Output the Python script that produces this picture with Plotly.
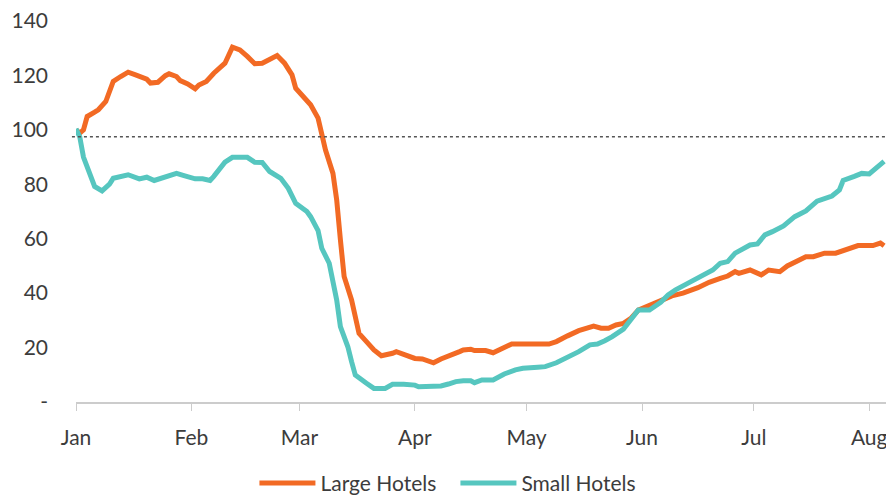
import pandas as pd
import plotly.graph_objects as go

# day offsets from 1 Jan 2020 and index values
start = pd.Timestamp("2020-01-01")

large_days = [0, 1, 2, 3, 5, 6, 8, 9, 10, 12, 14, 16, 18, 19, 20, 22, 24, 25, 27, 28,
              30, 32, 33, 35, 37, 40, 42, 44, 46, 48, 50, 54, 56, 58, 59, 61, 63, 65, 66, 67,
              69, 70, 71, 72, 74, 75, 76, 78, 80, 82, 84, 85, 86, 88, 91, 93, 96, 98, 100, 103,
              104, 106, 107, 110, 112, 114, 117, 127, 129, 132, 134, 135, 139, 141, 143, 145, 147, 149, 151, 154,
              158, 160, 163, 167, 170, 173, 175, 177, 178, 181, 184, 186, 189, 191, 194, 196, 198, 201, 204, 207,
              210, 214, 216, 217]
large_hotels = [100, 98.8, 100, 104.9, 106.5, 107.4, 110.4, 114, 117.8, 119.6, 121.2, 120.2, 119, 118.6, 117.2, 117.5, 119.9, 120.6, 119.6, 118.1,
                116.9, 115.1, 116.5, 117.8, 120.8, 124.5, 130.4, 129.4, 127, 124.3, 124.5, 127.3, 124.5, 120.2, 115.3, 112.2, 109.2, 104.3, 97.5, 92.6,
                84, 74.3, 59.6, 46.1, 37.5, 30.1, 25.2, 22.2, 19.1, 17, 17.5, 17.9, 18.5, 17.6, 16, 15.8, 14.4, 15.8, 16.7, 18.5,
                19.1, 19.4, 18.9, 18.9, 18.1, 19.4, 21.3, 21.3, 22.2, 24.3, 25.9, 26.2, 27.9, 27.1, 27.1, 28.3, 28.9, 30.7, 33.8, 35.7,
                37.8, 39, 40, 42, 44, 45.4, 46.3, 47.9, 47.3, 48.5, 46.7, 48.5, 47.9, 50, 51.8, 53.4, 53.4, 54.7, 54.7, 56.1,
                57.5, 57.5, 58.4, 57.4]

small_days = [0, 1, 2, 4, 5, 7, 9, 10, 14, 17, 19, 21, 23, 25, 27, 29, 32, 34, 36, 37,
              39, 40, 42, 46, 48, 50, 52, 55, 57, 59, 62, 63, 65, 66, 68, 69, 70, 71, 73, 74,
              75, 78, 80, 83, 85, 88, 91, 92, 95, 98, 100, 102, 104, 106, 107, 109, 112, 115, 118, 120,
              124, 126, 129, 132, 135, 138, 140, 142, 144, 147, 149, 151, 154, 156, 157, 159, 161, 164, 166, 169,
              171, 173, 175, 177, 181, 183, 185, 187, 190, 193, 196, 199, 203, 205, 206, 209, 211, 213, 215, 217]
small_hotels = [100.4, 97.5, 90, 82.2, 79.2, 77.6, 80.1, 82.2, 83.5, 82, 82.6, 81.4, 82.2, 83.2, 84, 83.2, 82, 82, 81.4, 82.9,
                86, 88.1, 89.9, 89.9, 88.1, 88, 84.7, 82.2, 78.5, 73, 70, 68.1, 63, 56.5, 51, 44.9, 37.5, 27.7, 20.3, 14.8,
                9.9, 6.9, 5, 5, 6.5, 6.5, 6.2, 5.6, 5.6, 5.9, 6.6, 7.5, 7.8, 7.8, 7.1, 8.1, 8.1, 10.3, 11.8, 12.4,
                12.8, 13, 14.4, 16.4, 18.5, 21, 21.3, 22.5, 24, 26.8, 30.1, 33.8, 33.8, 35.7, 36.6, 39.3, 41.2, 43.4, 44.9, 46.7,
                48.5, 51, 51.6, 54.7, 57.7, 58.1, 61.4, 62.6, 64.7, 68.1, 70.2, 73.8, 75.7, 77.9, 81.4, 82.9, 84, 83.8, 85.9, 88.4]

reference_level = 97.5
y_ticks = [0, 20, 40, 60, 80, 100, 120, 140]
y_labels = ["-", "20", "40", "60", "80", "100", "120", "140"]
month_ticks = ["2020-01-01", "2020-02-01", "2020-03-01", "2020-04-01",
               "2020-05-01", "2020-06-01", "2020-07-01", "2020-08-01"]
month_labels = ["Jan", "Feb", "Mar", "Apr", "May", "Jun", "Jul", "Aug"]

large_dates = start + pd.to_timedelta(large_days, unit="D")
small_dates = start + pd.to_timedelta(small_days, unit="D")

fig = go.Figure()
fig.add_trace(go.Scatter(x=large_dates, y=large_hotels, mode="lines", name="Large Hotels",
                         line=dict(color="#F26A24", width=5)))
fig.add_trace(go.Scatter(x=small_dates, y=small_hotels, mode="lines", name="Small Hotels",
                         line=dict(color="#56C6BF", width=5)))

# dotted reference line
fig.add_shape(type="line", xref="paper", yref="y", x0=-0.005, x1=1,
              y0=reference_level, y1=reference_level,
              line=dict(color="#555555", width=1.5, dash="dot"))

# page body has an 8px margin, so the figure is sized to the visible area
fig.update_layout(
    width=886, height=487,
    margin=dict(l=68, r=4, t=13, b=93),
    paper_bgcolor="white", plot_bgcolor="white",
    font=dict(family="Lato, Noto Sans, sans-serif", size=21, color="#3c3c3c"),
    showlegend=True,
    legend=dict(orientation="h", xref="container", x=0.505, xanchor="center",
                yref="container", y=0.024, yanchor="middle",
                font=dict(size=21), itemwidth=56, entrywidth=130),
)
fig.update_xaxes(
    range=["2020-01-01", "2020-08-06 14:00"],
    tickvals=month_ticks, ticktext=month_labels,
    showgrid=False, showline=True, linecolor="#cccccc", linewidth=2,
    ticks="outside", ticklen=7, tickcolor="#cccccc", tickwidth=1,
    ticklabelstandoff=9, zeroline=False, automargin=False,
)
fig.update_yaxes(
    range=[0, 140], tickvals=y_ticks, ticktext=y_labels,
    showgrid=False, zeroline=False, showline=False, ticks="",
    ticklabelstandoff=27, automargin=False, ticklabeloverflow="allow",
)

fig.write_html("out.html")
